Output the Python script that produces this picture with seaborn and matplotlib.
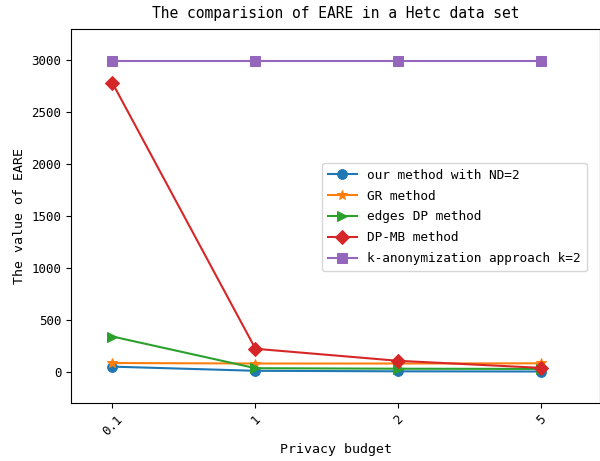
import matplotlib
matplotlib.use("Agg")
import matplotlib.pyplot as plt
import seaborn as sns
import pandas as pd

budgets = ["0.1", "1", "2", "5"]
our_method = [50, 10, 5, 3]
gr_method = [85, 80, 80, 82]
edges_dp = [340, 35, 30, 28]
dp_mb = [2780, 222, 106, 38]
k_anon = [2990, 2990, 2990, 2990]

series = [
    ("our method with ND=2", our_method, "o"),
    ("GR method", gr_method, "*"),
    ("edges DP method", edges_dp, ">"),
    ("DP-MB method", dp_mb, "D"),
    ("k-anonymization approach k=2", k_anon, "s"),
]

plt.rcParams["font.family"] = ["DejaVu Sans Mono"]
fig = plt.figure(figsize=(6.0, 4.61), dpi=100)
ax = fig.add_axes([71 / 600, 58 / 461, 1 - 71 / 600, 374 / 461])

palette = sns.color_palette("tab10")
pos = list(range(len(budgets)))
for i, (name, vals, mk) in enumerate(series):
    df = pd.DataFrame({"x": pos, "y": vals})
    sns.lineplot(data=df, x="x", y="y", ax=ax, color=palette[i], marker=mk,
                 markersize=7, markeredgecolor=palette[i], linewidth=1.5,
                 label=name)

ax.set_xticks(pos)
ax.set_xticklabels(budgets, rotation=45, fontsize=9)
ax.set_xlim(-0.29, 3.41)
ax.set_ylim(-300, 3300)
ax.set_yticks([0, 500, 1000, 1500, 2000, 2500, 3000])
ax.tick_params(axis="y", labelsize=9)
ax.set_xlabel("Privacy budget", fontsize=9.5)
ax.set_ylabel("The value of EARE", fontsize=9.5)
ax.set_title("The comparision of EARE in a Hetc data set", fontsize=10.5, pad=8)
ax.legend(loc="upper left", bbox_to_anchor=(0.4745, 0.642), borderaxespad=0,
          fontsize=9.2, handlelength=2.3, borderpad=0.45, labelspacing=0.62)

fig.savefig("out.png", dpi=100)
